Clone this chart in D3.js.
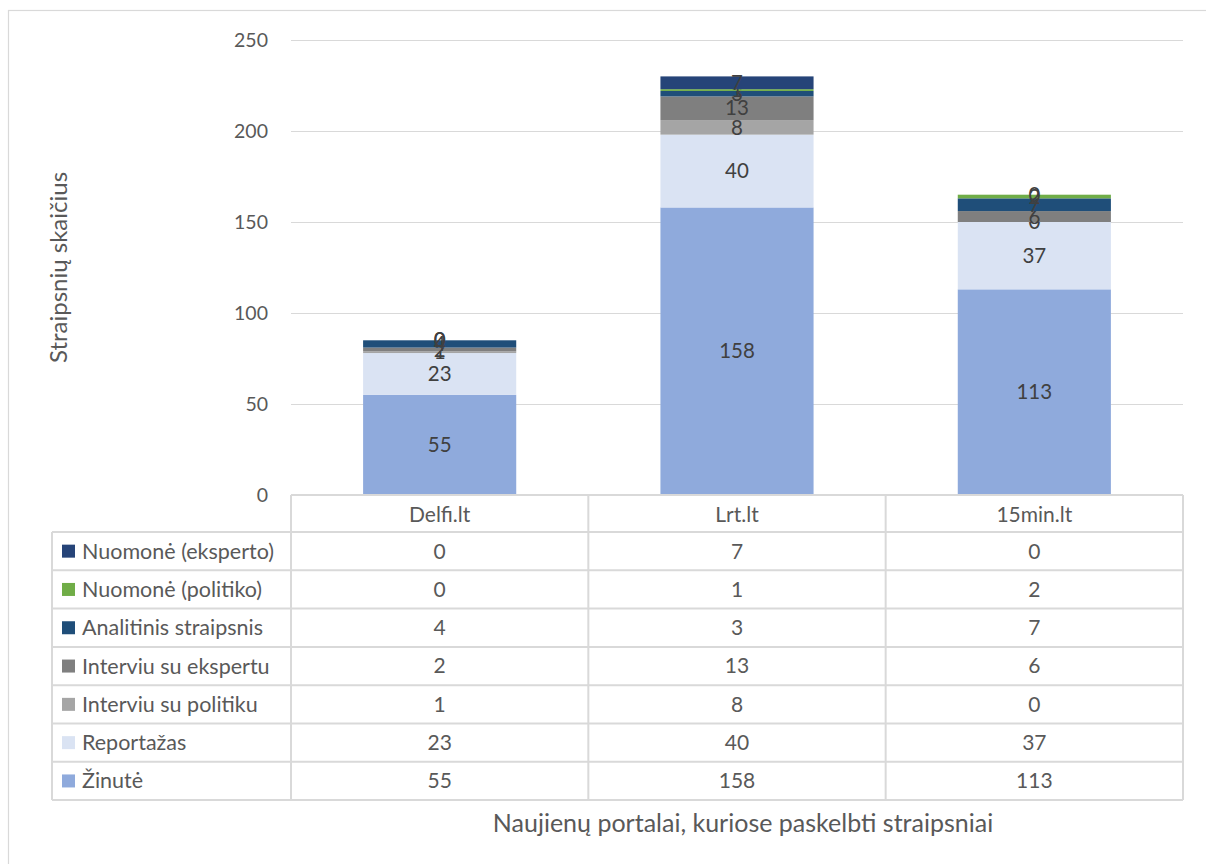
<!DOCTYPE html>
<meta charset="utf-8">
<head>
    <style>
        body {margin: 0; background: #fff;}
        text {font-family: Lato, "Open Sans", sans-serif; fill: #595959;}
        .lbl {fill: #404040;}
    </style>
    <script src="https://d3js.org/d3.v7.min.js"></script>
</head>
<body>
<script>

    // categories and series (bottom to top of the stack)
    var categories = ["Delfi.lt", "Lrt.lt", "15min.lt"];
    var seriesNames = ["Žinutė", "Reportažas", "Interviu su politiku", "Interviu su ekspertu",
                       "Analitinis straipsnis", "Nuomonė (politiko)", "Nuomonė (eksperto)"];
    var seriesColors = ["#8FAADC", "#DAE3F3", "#A5A5A5", "#7F7F7F", "#1F4E79", "#70AD47", "#264478"];

    var zinute       = [55, 158, 113],
        reportazas   = [23, 40, 37],
        intPolitiku  = [1, 8, 0],
        intEkspertu  = [2, 13, 6],
        analitinis   = [4, 3, 7],
        nuomPolitiko = [0, 1, 2],
        nuomEksperto = [0, 7, 0];

    var seriesValues = [zinute, reportazas, intPolitiku, intEkspertu, analitinis, nuomPolitiko, nuomEksperto];
    var yTicks = [0, 50, 100, 150, 200, 250];

    var width = 1206, height = 864;
    var plot = {left: 291, right: 1183, top: 40, bottom: 495};
    var legendLeft = 52, headerH = 37, rowH = 38.3;

    var rows = categories.map(function(c, i) {
        var r = {cat: c};
        seriesNames.forEach(function(s, j) { r[s] = seriesValues[j][i]; });
        return r;
    });

    var stacked = d3.stack().keys(seriesNames)(rows);

    var x = d3.scaleBand()
        .domain(categories)
        .range([plot.left, plot.right])
        .paddingInner(0.485)
        .paddingOuter(0.2425);

    var y = d3.scaleLinear()
        .domain([0, 250])
        .range([plot.bottom, plot.top]);

    var svg = d3.select("body").append("svg")
        .attr("width", width)
        .attr("height", height);

    // outer chart frame
    svg.append("rect")
        .attr("x", 8.5).attr("y", 10.5)
        .attr("width", width).attr("height", height)
        .attr("fill", "none").attr("stroke", "#D9D9D9").attr("stroke-width", 1.2);

    // gridlines
    svg.append("g").selectAll("line")
        .data(yTicks.slice(1))
      .enter().append("line")
        .attr("x1", plot.left).attr("x2", plot.right)
        .attr("y1", function(d) {return Math.round(y(d)) + 0.5})
        .attr("y2", function(d) {return Math.round(y(d)) + 0.5})
        .attr("stroke", "#D9D9D9").attr("stroke-width", 1.2);

    // y tick labels
    svg.append("g").selectAll("text")
        .data(yTicks)
      .enter().append("text")
        .attr("x", 268)
        .attr("y", function(d) {return y(d)})
        .attr("dy", "0.35em")
        .attr("text-anchor", "end")
        .style("font-size", "19.5px")
        .text(function(d) {return d});

    // bars
    var layers = svg.append("g").selectAll("g")
        .data(stacked)
      .enter().append("g")
        .attr("fill", function(d, i) {return seriesColors[i]});

    layers.selectAll("rect")
        .data(function(d) {return d})
      .enter().append("rect")
        .attr("x", function(d) {return x(d.data.cat)})
        .attr("width", x.bandwidth())
        .attr("y", function(d) {return y(d[1])})
        .attr("height", function(d) {return y(d[0]) - y(d[1])});

    // data labels
    layers.selectAll("text")
        .data(function(d) {return d.map(function(p) {p.key = d.key; return p;})})
      .enter().append("text")
        .attr("class", "lbl")
        .attr("x", function(d) {return x(d.data.cat) + x.bandwidth() / 2})
        .attr("y", function(d) {return (y(d[0]) + y(d[1])) / 2})
        .attr("dy", "0.35em")
        .attr("text-anchor", "middle")
        .style("font-size", "20.5px")
        .text(function(d) {return d.data[d.key]});

    // y axis title
    svg.append("text")
        .attr("transform", "translate(67," + ((plot.top + plot.bottom) / 2) + ") rotate(-90)")
        .attr("text-anchor", "middle")
        .style("font-size", "24px")
        .text("Straipsnių skaičius");

    // data table
    var table = svg.append("g");
    var tableRows = seriesNames.slice().reverse();
    var tableBottom = plot.bottom + headerH + rowH * tableRows.length;
    var colEdges = [plot.left].concat(categories.map(function(c) {return x(c) + x.bandwidth() / 2 + x.step() / 2}));
    var lineStyle = function(sel) {return sel.attr("stroke", "#D9D9D9").attr("stroke-width", 2)};

    // horizontal lines
    table.append("line").call(lineStyle)
        .attr("x1", plot.left).attr("x2", plot.right)
        .attr("y1", plot.bottom).attr("y2", plot.bottom);
    d3.range(tableRows.length + 1).forEach(function(i) {
        table.append("line").call(lineStyle)
            .attr("x1", legendLeft).attr("x2", plot.right)
            .attr("y1", plot.bottom + headerH + i * rowH)
            .attr("y2", plot.bottom + headerH + i * rowH);
    });
    // vertical lines
    table.append("line").call(lineStyle)
        .attr("x1", legendLeft).attr("x2", legendLeft)
        .attr("y1", plot.bottom + headerH).attr("y2", tableBottom);
    colEdges.forEach(function(cx) {
        table.append("line").call(lineStyle)
            .attr("x1", cx).attr("x2", cx)
            .attr("y1", plot.bottom).attr("y2", tableBottom);
    });

    // header
    table.selectAll(".hdr")
        .data(categories)
      .enter().append("text")
        .attr("class", "hdr")
        .attr("x", function(d) {return x(d) + x.bandwidth() / 2})
        .attr("y", plot.bottom + headerH / 2 + 1)
        .attr("dy", "0.35em")
        .attr("text-anchor", "middle")
        .style("font-size", "21px")
        .text(function(d) {return d});

    // rows
    var tr = table.selectAll(".row")
        .data(tableRows)
      .enter().append("g")
        .attr("class", "row")
        .attr("transform", function(d, i) {return "translate(0," + (plot.bottom + headerH + i * rowH + rowH / 2) + ")"});

    tr.append("rect")
        .attr("x", 62).attr("y", -6.5)
        .attr("width", 13).attr("height", 13)
        .attr("fill", function(d) {return seriesColors[seriesNames.indexOf(d)]});

    tr.append("text")
        .attr("x", 82)
        .attr("dy", "0.35em")
        .style("font-size", "21.5px")
        .text(function(d) {return d});

    tr.selectAll(".val")
        .data(function(d) {
            var vals = seriesValues[seriesNames.indexOf(d)];
            return categories.map(function(c, i) {return {cat: c, v: vals[i]}});
        })
      .enter().append("text")
        .attr("class", "val")
        .attr("x", function(d) {return x(d.cat) + x.bandwidth() / 2})
        .attr("dy", "0.35em")
        .attr("text-anchor", "middle")
        .style("font-size", "21px")
        .text(function(d) {return d.v});

    // x axis title
    svg.append("text")
        .attr("x", (plot.left + plot.right) / 2 + 6)
        .attr("y", 823)
        .attr("dy", "0.35em")
        .attr("text-anchor", "middle")
        .style("font-size", "25px")
        .text("Naujienų portalai, kuriose paskelbti straipsniai");

</script>
</body>
